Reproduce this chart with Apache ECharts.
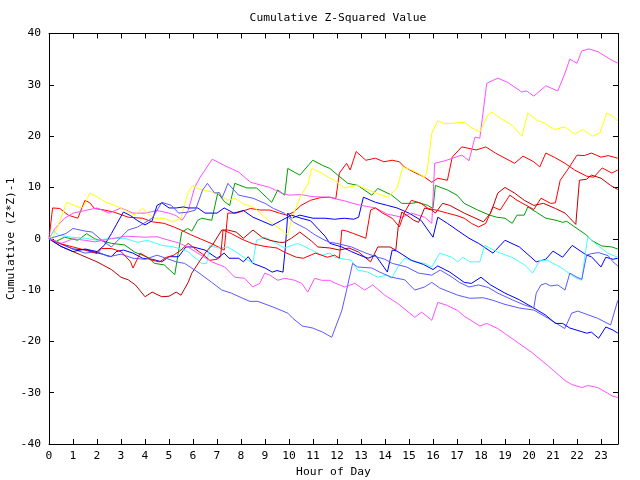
<!DOCTYPE html>
<html><head><meta charset="utf-8">
<script src="https://cdn.jsdelivr.net/npm/echarts@6/dist/echarts.min.js"></script>
<style>html,body{margin:0;padding:0;background:#fff}#c{width:640px;height:480px}</style>
</head><body><div id="c"></div>
<script>
// ---- tick labels ----
const xTickLabels = [0,1,2,3,4,5,6,7,8,9,10,11,12,13,14,15,16,17,18,19,20,21,22,23];
const yTickLabels = [-40,-30,-20,-10,0,10,20,30,40];

// ---- series data: [hour, cumulative value] ----
const magentaA = [[0,0],[0.25,2],[0.65,4],[1,5],[1.5,5.5],[2,6],[2.5,5],[3,6],[3.5,5],[4,5],[4.5,5.5],[5,5],[5.3,4.5],[5.55,3.6],[5.8,5.5],[6.07,10],[6.3,12],[6.8,15.5],[7.3,14.3],[7.9,13],[8.4,11],[9.2,10],[9.7,8.9],[10,8.5],[10.5,8.6],[11,8.2],[11.7,8.1],[11.9,7.8],[12.3,7.4],[12.9,6.6],[13.6,6],[14.1,4.8],[14.7,4.2],[15.1,5],[15.65,4.2],[15.95,3],[16.07,14.7],[16.5,15.2],[17.2,16.3],[17.5,15.2],[17.75,19.8],[17.95,19.6],[18.24,30.3],[18.7,31.3],[19.1,30.5],[19.7,28.6],[19.9,28.8],[20.2,27.8],[20.7,29.8],[21.2,28.8],[21.5,32.3],[21.7,35],[22,34.2],[22.2,36.6],[22.5,37],[22.9,36.4],[23.3,35.2],[23.7,34.2]];
const yellowA = [[0,0],[0.11,-0.3],[0.36,2.3],[0.74,7.1],[1.2,6.2],[1.4,6],[1.7,8.9],[2.03,8.1],[2.32,7.2],[2.74,6.5],[3.15,5.6],[3.57,4.6],[3.9,6],[4.1,5],[4.4,4],[4.8,4],[5.15,3.3],[5.5,4],[5.78,8.9],[5.86,9.5],[6.0,10.4],[6.2,9.8],[6.49,9.4],[7.03,8.9],[7.45,7.5],[7.74,7.9],[8.07,6.9],[8.57,6],[9.2,3.3],[9.82,1.3],[9.95,0.7],[10.1,3.6],[10.45,8],[10.8,10.8],[10.95,13.7],[11.36,12.8],[11.7,11.8],[11.9,11.4],[12.3,9.9],[12.86,10.4],[13.57,9],[14.1,8.1],[14.5,9.8],[14.74,14],[15.1,13.4],[15.36,12.8],[15.65,12],[15.74,12.8],[15.95,20.6],[16.2,23],[16.5,22.4],[17.3,22.7],[17.6,21.7],[17.95,20.8],[18.28,24.1],[18.45,24.7],[18.7,23.8],[19.3,22.1],[19.7,20],[19.95,24.5],[20.3,23.2],[20.65,22.5],[21.07,21.3],[21.5,21.8],[21.9,20.4],[22.24,21.3],[22.65,20],[22.95,20.6],[23.24,24.5],[23.49,23.9],[23.7,22.9]];
const greenA = [[0,0],[0.3,-0.5],[0.65,0.3],[1.2,-0.3],[1.57,1],[1.9,0],[2.6,-0.9],[3.15,-1.2],[3.57,-2.6],[4.1,-3.6],[4.4,-4.8],[4.8,-5.1],[5.24,-7],[5.36,-3.5],[5.53,1.3],[5.78,2],[5.95,1.5],[6.2,3.6],[6.36,4],[6.78,3.6],[7.03,8.9],[7.32,7.2],[7.53,6.5],[7.74,10.8],[8.24,9.9],[8.65,9.9],[9.28,7.1],[9.53,9.5],[9.82,8.5],[9.95,13.7],[10.45,12.4],[10.99,15.3],[11.4,14.3],[11.7,13.7],[12.03,12.4],[12.45,10.8],[12.86,10.4],[13.45,8.5],[13.7,9.8],[14.28,8.5],[14.7,6.9],[15.1,6.9],[15.36,7.1],[15.78,6.5],[16,5.9],[16.1,10.4],[16.6,9.5],[17,8.5],[17.3,6.9],[17.86,5.6],[18.36,4.6],[18.65,4.2],[19,4],[19.3,3],[19.5,4.6],[19.8,4.6],[19.95,6.2],[20.3,5.2],[20.7,4],[21.13,3.6],[21.4,3.2],[21.57,3.4],[22,2],[22.4,0.7],[22.6,-0.3],[23.03,-1.4],[23.45,-1.6],[23.7,-2]];
const redX = [[0,0],[0.15,6],[0.45,5.9],[0.8,4.6],[1.2,4],[1.5,7.5],[1.7,7],[1.9,5.9],[2.3,5.6],[2.7,5.2],[3.3,4.2],[3.9,4],[4.3,3.3],[4.8,3],[5.2,2.3],[5.5,1.7],[5.9,0.8],[6.3,0],[6.8,-1],[7.3,-2.2],[7.45,5],[7.8,5],[8.4,5.9],[8.8,5.6],[9.2,5.6],[9.6,5],[9.9,4.6],[10.2,5.2],[10.5,6.5],[10.9,7.5],[11.3,8],[11.7,8.1],[11.95,7.8],[12.1,12.8],[12.4,14.7],[12.55,13.4],[12.8,17],[13.2,15.3],[13.6,15.7],[13.95,15],[14.3,15.3],[14.6,15],[14.8,14],[15.2,13],[15.65,12],[15.95,11],[16.2,11.8],[16.6,11.4],[16.8,15.9],[17.2,17.9],[17.5,17.6],[17.8,17.3],[18.2,17.9],[18.6,16.7],[19.4,14.7],[19.75,16.1],[20.2,15],[20.45,14],[20.7,16.7],[21.05,15.9],[21.5,14.7],[21.9,13.4],[22.4,12.2],[22.7,12],[23.05,13.8],[23.45,12.8],[23.7,13.4]];
const redY = [[0,0],[0.5,-1],[1,-1.6],[1.5,-2.2],[2,-2.9],[2.2,-1.9],[2.6,-1.9],[3,-2.5],[3.4,-4.5],[3.5,-5.7],[3.8,-2.8],[4.3,-4.2],[4.6,-4.5],[4.9,-3.6],[5.2,-3.2],[5.5,-2.2],[5.8,-0.9],[6.1,-2],[6.4,-3],[6.7,-4.2],[7.0,-4],[7.15,-3.5],[7.25,1.7],[7.6,1],[8,0],[8.5,-1],[9,-1.5],[9.5,-1.8],[9.8,-2.6],[10.3,-3.6],[10.6,-3.8],[11.1,-2.8],[11.6,-3.6],[11.9,-3.2],[12.1,-3.8],[12.2,1.7],[12.4,1.5],[12.7,1],[13.2,0.1],[13.4,5.6],[13.6,6],[13.9,5],[14.3,4],[14.6,2.3],[14.8,5],[15.1,7.5],[15.5,6.9],[15.8,5.9],[16.2,5.5],[16.6,5],[17,4.5],[17.3,4],[17.6,3],[17.9,2.3],[18.2,3],[18.5,6.2],[18.8,5.6],[19.2,8.5],[19.5,7.5],[20.2,5.7],[20.5,7.9],[20.9,6.9],[21.1,7],[21.3,11.4],[21.6,13.4],[22,16.3],[22.3,16.2],[22.6,16.7],[23,15.9],[23.3,16.2],[23.7,15.7]];
const darkRed = [[0,0],[0.5,-1.5],[1,-2.5],[1.5,-3.5],[2,-4.5],[2.6,-6],[3,-7.5],[3.3,-8],[3.6,-9],[4,-11.3],[4.3,-10.4],[4.7,-11.3],[5,-11.2],[5.3,-10.4],[5.5,-11],[5.8,-8.5],[5.95,-6.7],[6.3,-4.2],[6.6,-2.2],[6.8,-1.3],[7.2,1.7],[7.45,1.7],[7.8,1.3],[8.1,0.1],[8.5,1.7],[8.9,0.2],[9.2,-0.3],[9.6,-0.7],[9.8,-0.7],[10.1,0.1],[10.45,1.3],[10.95,-0.5],[11.2,-1.6],[11.7,-1.8],[12.1,-2.2],[12.5,-1.8],[12.9,-2.6],[13.4,-4.5],[13.7,-1.6],[14.2,-1.6],[14.45,-2.2],[14.55,2.3],[14.7,5.2],[14.9,4.6],[15.2,3.6],[15.4,3.2],[15.65,6],[15.95,5.6],[16.1,5],[16.4,6.9],[16.7,6.5],[17.3,5],[18.1,3.3],[18.4,5],[18.7,8.9],[19,10],[19.4,8.9],[19.8,7.5],[20.2,6.5],[20.6,6.9],[21.1,5.9],[21.5,5],[21.95,2.8],[22.1,11.4],[22.4,11.6],[22.6,12.4],[23,11.8],[23.4,10.4],[23.7,9.6]];
const blueA = [[0,0],[0.5,-1],[1,-2],[1.6,-2.2],[2.6,-3.5],[2.8,-2.5],[3.1,-2.2],[3.5,-2.8],[3.9,-3.8],[4.3,-4],[4.7,-4.5],[5,-3.5],[5.4,-3.5],[5.7,-1.6],[6,-1.6],[6.5,-2.2],[7,-3.8],[7.3,-2.8],[7.5,-3.8],[7.9,-3.8],[8.1,-4.5],[8.3,-3.5],[8.5,-4.8],[9,-5.7],[9.3,-6.5],[9.5,-6.2],[9.75,-6.5],[9.85,-1.6],[9.95,5],[10.1,4],[10.45,4.6],[11,4],[11.5,4],[11.9,3.8],[12.3,4],[12.7,3.8],[12.9,4.2],[13.1,8.1],[13.6,7.1],[14.1,6.5],[14.5,6],[15,5],[15.5,3.6],[16,0.3],[16.2,4.2],[16.6,3],[17,1.7],[17.5,0.1],[17.9,-0.9],[18.5,-2.8],[19,-0.3],[19.6,-1.6],[20.3,-4.5],[20.7,-4],[21,-2.4],[21.4,-3.6],[21.8,-1.3],[22.4,-3.2],[22.6,-3.5],[23,-5.5],[23.2,-3.6],[23.5,-4],[23.7,-3.8]];
const blueB = [[0,0],[0.5,-1.5],[1,-2.5],[1.5,-2],[2,-2.5],[2.3,-1.3],[2.6,1],[2.8,2.7],[3.1,5.2],[3.4,4.5],[3.7,3.5],[4,2.7],[4.3,3.5],[4.5,6.5],[4.7,7],[5,6],[5.3,6],[5.6,6.2],[5.8,6],[6.2,6],[6.5,5],[7,5],[7.3,6],[7.7,5],[8.1,5.5],[8.5,4.2],[9,3.2],[9.3,2.6],[9.7,3.6],[10.1,4.6],[10.5,4],[10.9,3.5],[11.2,2],[11.5,0.5],[11.7,-0.9],[12.2,-1.6],[12.6,-2.5],[13,-3.3],[13.3,-3.8],[13.6,-3.2],[14.1,-6.5],[14.3,-2.2],[14.5,-2.4],[15.1,-4.2],[15.6,-5],[16,-6],[16.2,-5.3],[16.7,-6.5],[17.3,-8.5],[17.6,-8.7],[18,-7.5],[18.4,-9],[19,-10.6],[19.6,-11.9],[20.2,-13.5],[20.7,-14.9],[21.1,-16.5],[21.4,-16.5],[21.7,-17.4],[22.4,-18.4],[22.6,-18.2],[22.9,-19.4],[23.2,-17.2],[23.5,-17.8],[23.7,-18.4]];
const lightBlueA = [[0,0],[0.5,-1],[1,-2],[1.5,-2.8],[2,-2.5],[2.5,-3.5],[3,-3],[3.5,-3.8],[4,-4],[4.5,-3.2],[5,-4],[5.3,-4.5],[5.65,-4.8],[6.2,-6.5],[6.78,-8.5],[7.2,-10],[7.6,-10.6],[8.07,-11.6],[8.37,-12.2],[8.7,-12.2],[9.33,-13.3],[9.95,-14.5],[10.16,-15.5],[10.55,-17],[10.99,-17.4],[11.4,-18.2],[11.78,-19.2],[12.2,-14],[12.4,-10],[12.65,-4.8],[12.86,-5.5],[13.45,-5.7],[13.78,-6.5],[14.28,-7.5],[14.82,-8],[15.24,-10],[15.65,-9.4],[15.95,-8.5],[16.28,-9.6],[17.03,-11],[17.53,-11.6],[18.1,-11.5],[18.5,-12],[19.0,-12.8],[19.6,-13.5],[20.2,-13.9],[20.8,-15.5],[21.49,-17.5],[21.78,-14.5],[22.03,-14.1],[22.86,-15.5],[23.4,-16.8],[23.45,-16],[23.7,-12]];
const lightBlueB = [[0,0],[0.7,1],[1,2],[1.5,1.5],[1.8,1.3],[2.2,-0.3],[2.6,-1.6],[3,0.3],[3.3,1.7],[3.7,2.3],[4.3,4],[4.7,7.1],[5.1,6.5],[5.4,5],[5.8,5.2],[6.1,5.6],[6.4,9.5],[6.6,10.8],[6.9,8.9],[7.1,9],[7.2,7.9],[7.35,9.5],[7.45,10.8],[7.9,8.5],[8.5,7.9],[9,6.9],[9.35,5.9],[9.8,5],[10.2,3.2],[10.7,2],[11.1,0.7],[11.5,-0.3],[11.7,-0.7],[12,-0.9],[12.6,-1.6],[13.2,-2.8],[13.7,-3.6],[14,-4],[14.3,-4.8],[14.9,-5.5],[15.4,-6.7],[15.95,-7.1],[16.3,-6.1],[16.8,-7.5],[17.1,-8.5],[17.5,-9.4],[17.9,-9],[18.3,-9.5],[18.7,-10.6],[19.3,-11.9],[19.8,-12.9],[20.2,-13.5],[20.3,-10.6],[20.5,-9],[20.7,-8.7],[20.9,-9.2],[21.2,-9],[21.5,-10],[21.7,-6.7],[22,-7.5],[22.2,-7.9],[22.4,-3.2],[22.6,-2.9],[22.9,-2.7],[23.3,-3.3],[23.5,-4.5],[23.7,-5.3]];
const cyanA = [[0,0],[0.2,1.5],[0.4,0.7],[0.95,0.3],[1.5,0.1],[2,-0.3],[2.6,0.1],[3.15,0.1],[3.7,-0.7],[4.1,-0.3],[4.7,-1.3],[5.2,-1.6],[5.8,-2.5],[5.95,-3.2],[6.36,-4.8],[6.57,-4.8],[6.7,-1.3],[7.03,-1.8],[7.45,-1.6],[7.86,-2.8],[8.49,-4.8],[8.65,-0.3],[9,0.3],[9.4,-0.7],[9.82,-1.8],[10.36,-0.9],[10.95,-2.2],[11.36,-3.2],[11.7,-2.8],[11.9,-3.6],[12.6,-4.2],[12.86,-6.1],[13.28,-6.5],[13.7,-7.5],[14.07,-7.1],[14.28,-7.7],[14.53,-5.5],[14.82,-3.8],[15.24,-4.5],[15.65,-4.8],[15.95,-5.5],[16.28,-2.8],[16.78,-3.6],[17.03,-4.5],[17.24,-3.6],[17.53,-4.5],[17.95,-4.5],[18.15,-1.3],[18.7,-2.6],[19.28,-3.6],[19.82,-5.1],[20.15,-6.7],[20.45,-4.2],[20.78,-4.2],[21.36,-5.7],[21.9,-7.5],[22.2,-8.1],[22.32,-3.6],[22.45,0.3],[22.86,-1.3],[23.28,-2.8],[23.7,-3.6]];
const magentaB = [[0,0],[0.53,-0.9],[1,0],[1.5,-0.3],[1.9,-0.6],[2.6,0],[3.2,0.5],[4,0.3],[4.5,0.4],[5,-0.3],[5.4,-0.8],[5.78,-1.6],[6.2,-2.8],[6.78,-4.5],[7.32,-5.5],[7.74,-7.5],[8.15,-7.7],[8.49,-9.4],[8.78,-8.7],[8.99,-6.7],[9.2,-7.1],[9.53,-8.1],[9.82,-7.7],[10.24,-8.1],[10.53,-8.7],[10.78,-10.4],[11.07,-7.7],[11.36,-8.1],[11.7,-8.1],[11.9,-8.6],[12.32,-9.4],[12.74,-8.7],[13.15,-10],[13.49,-9],[13.99,-11],[14.53,-12.6],[15.24,-15.3],[15.53,-14.3],[15.95,-15.9],[16.2,-12.4],[16.6,-13],[17.03,-14],[17.3,-15.1],[17.95,-17],[18.24,-16.5],[18.7,-17.5],[19.4,-19.8],[20.1,-22.1],[20.78,-24.7],[21.49,-27.6],[21.78,-28.4],[22.2,-29],[22.45,-28.6],[22.86,-29],[23.28,-30.1],[23.49,-30.7],[23.7,-30.9]];

const seriesList = [
  {data: redX, color: '#ff0000'},
  {data: greenA, color: '#00a000'},
  {data: blueA, color: '#0000ff'},
  {data: magentaA, color: '#ff50ff'},
  {data: cyanA, color: '#40ffff'},
  {data: darkRed, color: '#c00000'},
  {data: yellowA, color: '#ffff00'},
  {data: lightBlueA, color: '#5a5aff'},
  {data: redY, color: '#ff0000'},
  {data: blueB, color: '#0000ff'},
  {data: lightBlueB, color: '#5a5aff'},
  {data: magentaB, color: '#ff50ff'}
];

const FONT = 'DejaVu Sans Mono';
const chart = echarts.init(document.getElementById('c'), null, {renderer: 'canvas'});
const axisCommon = {
  axisLine: {show: true, onZero: false, lineStyle: {color: '#000', width: 1}},
  axisTick: {show: true, inside: true, length: 5, lineStyle: {color: '#000'}},
  splitLine: {show: false}
};
chart.setOption({
  animation: false,
  backgroundColor: '#fff',
  title: {
    text: 'Cumulative Z-Squared Value', left: 333, top: 8, textAlign: 'center',
    textStyle: {fontFamily: FONT, fontSize: 11.3, fontWeight: 'normal', color: '#000'}
  },
  grid: {left: 49, right: 22, top: 33.5, bottom: 36, containLabel: false, outerBoundsMode: 'none'},
  xAxis: [
    Object.assign({
      type: 'value', min: 0, max: 23.708, interval: 1, position: 'bottom',
      name: 'Hour of Day', nameLocation: 'middle', nameGap: 23, nameMoveOverlap: false,
      nameTextStyle: {fontFamily: FONT, fontSize: 11.3, color: '#000'},
      axisLabel: {fontFamily: FONT, fontSize: 11.3, color: '#000', margin: 7,
        formatter: v => xTickLabels.indexOf(v) >= 0 ? String(v) : ''}
    }, axisCommon),
    Object.assign({
      type: 'value', min: 0, max: 23.708, interval: 1, position: 'top',
      axisLabel: {show: false}
    }, axisCommon)
  ],
  yAxis: [
    Object.assign({
      type: 'value', min: -40, max: 40, interval: 10, position: 'left',
      name: 'Cumulative (Z*Z)-1', nameLocation: 'middle', nameGap: 32, nameRotate: 90,
      nameMoveOverlap: false,
      nameTextStyle: {fontFamily: FONT, fontSize: 11.3, color: '#000'},
      axisLabel: {fontFamily: FONT, fontSize: 11.3, color: '#000', margin: 8,
        formatter: v => yTickLabels.indexOf(v) >= 0 ? String(v) : ''}
    }, axisCommon),
    Object.assign({
      type: 'value', min: -40, max: 40, interval: 10, position: 'right',
      axisLabel: {show: false}
    }, axisCommon)
  ],
  series: seriesList.map(s => ({
    type: 'line', data: s.data, xAxisIndex: 0, yAxisIndex: 0,
    showSymbol: false, symbol: 'none', smooth: false,
    lineStyle: {color: s.color, width: 1}, itemStyle: {color: s.color},
    emphasis: {disabled: true}, silent: true
  }))
});
</script></body></html>
